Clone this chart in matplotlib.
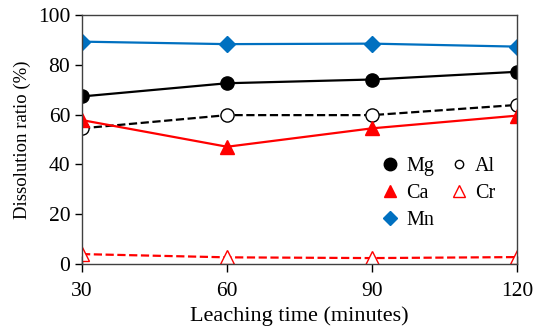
import matplotlib
matplotlib.use('Agg')
import matplotlib.pyplot as plt
from matplotlib.lines import Line2D

# leaching time (minutes)
time = [30, 60, 90, 120]

# dissolution ratio (%)
mg = [67.3, 72.6, 74.1, 77.2]
al = [54.5, 59.8, 59.8, 63.9]
ca = [57.8, 47.1, 54.5, 59.6]
cr = [4.0, 2.7, 2.4, 2.8]
mn = [89.3, 88.3, 88.5, 87.3]

plt.rcParams['font.family'] = ['Liberation Serif', 'DejaVu Serif']
plt.rcParams['font.size'] = 13

red = '#ff0000'
blue = '#0070c0'

fig = plt.figure(figsize=(5.36, 3.26), dpi=100)
ax = fig.add_axes([0.153, 0.19, 0.812, 0.764])

ax.plot(time, mg, '-', color='black', lw=1.6, marker='o', ms=9.5, label='Mg')
ax.plot(time, al, '--', color='black', lw=1.6, marker='o', ms=9.5,
        mfc='white', mew=1.0, label='Al')
ax.plot(time, ca, '-', color=red, lw=1.6, marker='^', ms=9.5, label='Ca')
ax.plot(time, cr, '--', color=red, lw=1.6, marker='^', ms=9.5,
        mfc='white', mew=1.0, label='Cr')
ax.plot(time, mn, '-', color=blue, lw=1.6, marker='D', ms=8, label='Mn')

ax.set_xlim(30, 120)
ax.set_ylim(0, 100)
ax.set_xticks(time)
ax.set_yticks([0, 20, 40, 60, 80, 100])
ax.tick_params(direction='out', length=5, width=1, labelsize=15.5)
ax.tick_params(axis='x', direction='inout', length=12, pad=7)
ax.set_xlabel('Leaching time (minutes)', fontsize=16, labelpad=4)
ax.set_ylabel('Dissolution ratio (%)', fontsize=13.5, labelpad=5)
for s in ax.spines.values():
    s.set_color('#404040')
    s.set_linewidth(1)

# legend shows markers only
h = [Line2D([], [], ls='', marker='o', color='black', ms=9, label='Mg'),
     Line2D([], [], ls='', marker='^', color=red, ms=9, label='Ca'),
     Line2D([], [], ls='', marker='D', color=blue, ms=7.5, label='Mn'),
     Line2D([], [], ls='', marker='o', color='black', mfc='white', ms=6, label='Al'),
     Line2D([], [], ls='', marker='^', color=red, mfc='white', ms=9, label='Cr')]
ax.legend(handles=h, ncol=2, frameon=False, fontsize=14.5, loc='upper left',
          bbox_to_anchor=(0.69, 0.43), borderpad=0, borderaxespad=0,
          handlelength=0.8, handletextpad=0.4, columnspacing=0.8,
          labelspacing=0.38)

fig.savefig('out.png', dpi=100)
